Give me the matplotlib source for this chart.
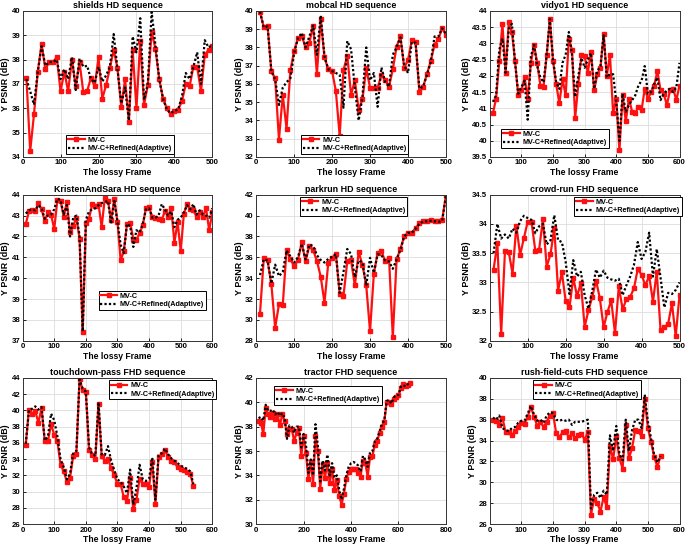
import numpy as np
import matplotlib
matplotlib.use("Agg")
import matplotlib.pyplot as plt
from matplotlib.ticker import FormatStrFormatter

plt.rcParams['font.family'] = ['Liberation Sans', 'DejaVu Sans']
plt.rcParams['font.weight'] = 'bold'

# ---- data: Y PSNR (dB) per lossy frame ----
shields_frames = list(range(10, 510, 10))
shields_mvc = [37.25, 34.25, 35.75, 37.5, 38.65, 37.6, 37.9, 37.9, 38.1, 36.7,
               37.5, 36.7, 38.0, 36.9, 37.9, 36.65, 36.7, 37.25, 36.9, 38.1,
               36.4, 36.95, 37.65, 38.4, 37.65, 36.05, 37.2, 35.45, 38.4, 36.0,
               38.75, 36.15, 36.95, 39.15, 38.45, 37.2, 36.4, 36.0, 35.75, 35.9,
               35.95, 36.3, 37.0, 36.9, 37.7, 37.7, 36.7, 38.2, 38.4, 38.55]
shields_ref = [37.2, 36.7, 36.15, 37.5, 38.55, 37.75, 37.9, 37.9, 38.0, 37.2,
               37.6, 37.2, 38.1, 36.75, 38.05, 37.7, 37.75, 37.2, 37.05, 37.7,
               37.1, 37.35, 37.7, 39.05, 37.6, 36.2, 36.85, 35.5, 38.95, 38.3,
               39.7, 36.35, 37.0, 39.95, 38.6, 37.2, 36.4, 35.95, 35.8, 35.9,
               35.95, 36.5, 37.45, 37.2, 37.7, 38.3, 37.0, 38.8, 38.5, 38.6]

mobcal_frames = list(range(10, 510, 10))
mobcal_mvc = [39.95, 39.1, 39.2, 36.7, 36.3, 32.95, 35.4, 33.55, 36.75, 37.8,
              38.5, 38.65, 38.0, 38.25, 39.2, 36.55, 39.55, 37.45, 36.8, 36.7,
              35.6, 33.15, 36.75, 37.55, 35.4, 36.2, 34.6, 35.15, 36.85, 35.8,
              35.8, 35.8, 36.5, 36.2, 35.85, 36.8, 38.05, 38.6, 36.9, 37.3,
              38.4, 38.3, 35.55, 35.85, 36.55, 37.25, 38.15, 38.45, 39.05, 38.7]
mobcal_ref = [39.95, 39.1, 39.15, 36.7, 36.25, 34.85, 35.8, 36.1, 36.3, 37.7,
              38.5, 38.8, 38.0, 38.6, 39.2, 37.6, 39.75, 37.5, 36.8, 36.7,
              36.6, 36.5, 34.7, 38.35, 37.9, 35.8, 34.0, 35.3, 38.0, 36.2,
              36.6, 34.75, 36.9, 36.1, 35.85, 37.6, 38.0, 38.55, 37.0, 36.6,
              38.3, 38.25, 35.75, 35.85, 36.5, 37.2, 38.6, 38.6, 39.05, 38.75]

vidyo_frames = list(range(10, 610, 10))
vidyo_mvc = [40.85, 41.3, 42.45, 43.6, 42.1, 43.65, 43.35, 42.45, 41.4, 41.55,
             41.95, 41.3, 42.4, 42.95, 42.4, 41.7, 41.65, 42.65, 43.75, 42.45,
             41.75, 41.15, 41.9, 41.4, 43.15, 42.8, 40.7, 41.75, 42.65, 42.6,
             42.1, 42.75, 41.55, 42.05, 42.25, 43.3, 42.0, 42.65, 40.85, 41.3,
             39.7, 41.4, 40.6, 41.3, 40.9, 40.85, 41.05, 40.95, 41.6, 41.3,
             41.5, 41.7, 42.15, 41.55, 41.45, 41.1, 41.55, 41.6, 41.25, 41.7]
vidyo_ref = [41.2, 41.4, 42.8, 43.15, 42.1, 43.45, 43.6, 42.4, 41.45, 41.65,
             41.85, 40.65, 42.6, 42.95, 42.3, 41.95, 41.8, 42.65, 43.75, 42.5,
             41.8, 41.6, 42.4, 42.65, 43.35, 42.65, 41.35, 42.0, 42.55, 42.25,
             42.5, 42.7, 41.6, 42.15, 42.3, 43.25, 41.95, 42.05, 42.05, 41.2,
             40.0, 41.45, 40.9, 41.1, 41.25, 41.4, 41.7, 41.85, 42.3, 41.45,
             41.5, 41.75, 41.95, 41.25, 41.45, 41.55, 41.6, 41.5, 41.65, 42.4]

kristen_frames = list(range(10, 610, 10))
kristen_mvc = [42.6, 43.2, 43.25, 43.2, 43.6, 43.3, 42.75, 43.15, 43.05, 42.35,
               43.75, 43.7, 42.95, 43.65, 42.2, 42.5, 42.9, 41.9, 37.4, 42.65,
               42.85, 43.55, 43.45, 43.55, 42.45, 43.85, 43.7, 42.8, 43.8, 42.7,
               40.85, 41.3, 42.6, 42.65, 41.9, 41.85, 42.15, 42.55, 43.35, 43.4,
               42.95, 42.9, 42.85, 42.8, 43.2, 42.95, 43.35, 41.7, 42.7, 41.3,
               43.1, 43.55, 43.3, 43.25, 42.95, 43.15, 42.95, 43.35, 42.3, 43.15]
kristen_ref = [43.1, 43.25, 43.3, 43.25, 43.5, 43.35, 42.85, 43.0, 43.05, 43.3,
               43.8, 43.75, 43.05, 43.5, 42.0, 42.9, 43.0, 42.05, 37.45, 42.8,
               43.2, 43.3, 43.35, 43.5, 43.6, 43.65, 43.7, 42.6, 43.7, 42.7,
               41.6, 41.2, 42.6, 42.5, 41.5, 42.3, 42.2, 42.6, 43.3, 43.35,
               42.9, 42.9, 43.0, 43.55, 43.3, 43.0, 43.2, 42.45, 42.8, 42.9,
               43.15, 43.5, 43.3, 43.55, 43.05, 43.25, 43.05, 43.0, 42.9, 43.35]

parkrun_frames = list(range(10, 510, 10))
parkrun_mvc = [30.6, 35.9, 35.7, 33.4, 29.25, 31.5, 31.4, 36.75, 35.8, 35.15,
               35.7, 37.45, 35.6, 37.1, 36.7, 35.65, 34.15, 31.65, 35.5, 35.95,
               36.35, 32.5, 32.3, 35.6, 35.7, 33.3, 36.5, 35.3, 33.3, 28.9,
               34.4, 36.45, 36.6, 35.6, 35.95, 28.35, 35.8, 36.8, 38.0, 38.35,
               38.35, 38.8, 39.25, 39.5, 39.5, 39.55, 39.45, 39.45, 39.55, 41.95]
parkrun_ref = [34.3, 35.8, 35.7, 33.5, 35.3, 34.2, 34.6, 36.65, 36.1, 35.5,
               36.0, 37.3, 35.8, 37.2, 37.1, 36.2, 35.75, 35.5, 35.85, 36.05,
               36.3, 32.6, 34.6, 36.8, 36.3, 34.1, 35.7, 35.5, 33.3, 35.95,
               34.5, 36.3, 36.2, 35.7, 35.6, 34.9, 35.8, 36.7, 38.0, 38.35,
               38.35, 38.75, 39.2, 39.45, 39.45, 39.5, 39.45, 39.4, 39.5, 41.9]

crowd_frames = list(range(10, 510, 10))
crowd_mvc = [33.22, 33.67, 32.12, 33.53, 33.52, 33.15, 33.97, 33.47, 33.76, 34.04,
             34.04, 33.54, 33.56, 34.08, 33.27, 33.48, 33.93, 32.86, 33.17, 32.68,
             32.57, 33.08, 32.76, 32.99, 32.24, 32.52, 32.75, 33.03, 32.73, 32.23,
             32.49, 32.69, 32.13, 32.93, 32.54, 32.71, 32.75, 32.90, 33.23, 33.13,
             32.95, 33.11, 32.67, 33.18, 32.18, 32.23, 32.29, 32.64, 32.08, 32.78]
crowd_ref = [33.5, 34.0, 33.75, 33.82, 33.75, 33.92, 33.85, 34.05, 34.14, 34.1,
             34.07, 33.84, 33.96, 34.0, 33.65, 33.72, 34.15, 33.72, 33.69, 33.35,
             32.8, 33.38, 33.1, 33.18, 32.78, 32.55, 32.85, 33.22, 33.08, 33.2,
             33.08, 33.05, 33.03, 33.06, 32.78, 32.95, 33.1, 33.3, 33.69, 33.4,
             33.52, 33.85, 33.1, 33.57, 33.08, 32.57, 32.82, 32.8, 32.87, 33.0]

touch_frames = list(range(10, 550, 10))
touch_mvc = [35.8, 40.1, 39.6, 39.9, 38.5, 40.3, 36.2, 36.2, 38.3, 37.0,
             36.2, 33.3, 32.5, 31.2, 31.7, 34.4, 34.6, 43.9, 42.5, 42.3,
             35.1, 34.5, 34.0, 40.8, 34.4, 33.8, 34.0, 32.9, 32.0, 30.9,
             30.9, 29.3, 28.8, 31.7, 27.8, 29.0, 31.6, 30.9, 30.9, 30.6,
             33.7, 28.5, 34.3, 34.6, 35.1, 34.3, 33.8, 33.6, 33.0, 32.8,
             32.6, 32.4, 32.2, 30.7]
touch_ref = [35.9, 40.0, 40.2, 40.5, 40.1, 40.4, 36.3, 36.8, 39.6, 38.8,
             36.8, 34.0, 33.0, 31.5, 32.2, 34.7, 35.0, 43.8, 42.7, 42.3,
             35.5, 34.6, 34.4, 41.0, 34.6, 34.5, 35.6, 33.8, 32.6, 31.5,
             31.2, 30.6, 29.8, 32.7, 28.4, 30.4, 33.3, 31.5, 31.3, 31.6,
             34.2, 29.0, 34.5, 34.7, 35.3, 34.6, 34.1, 33.8, 33.5, 33.2,
             33.0, 32.8, 32.5, 30.9]

tractor_frames = list(range(10, 660, 10))
tractor_mvc = [38.5, 38.3, 37.4, 39.5, 39.0, 38.8, 39.1, 38.6, 39.0, 38.1,
               39.0, 38.5, 37.4, 37.8, 37.8, 36.8, 37.5, 37.9, 35.6, 37.2,
               35.8, 33.7, 35.1, 33.3, 37.2, 36.0, 32.9, 34.9, 33.8, 35.0,
               33.4, 34.5, 32.8, 33.6, 32.3, 31.6, 32.5, 33.7, 34.3, 34.5,
               34.5, 34.5, 34.2, 33.9, 35.2, 35.0, 33.9, 35.5, 35.6, 36.5,
               36.8, 37.5, 38.0, 38.4, 40.0, 40.0, 39.9, 40.3, 40.4, 40.6,
               41.2, 41.5, 41.3, 41.4, 41.6]
tractor_ref = [38.7, 38.8, 38.5, 39.8, 39.3, 39.3, 39.4, 39.0, 39.2, 38.9,
               39.1, 38.7, 37.0, 38.1, 38.0, 37.5, 38.0, 38.0, 36.3, 37.4,
               36.5, 34.2, 35.3, 34.0, 38.2, 36.4, 33.5, 35.2, 34.4, 35.7,
               34.0, 35.0, 33.8, 34.0, 32.8, 32.0, 32.9, 34.0, 34.7, 35.0,
               35.1, 35.0, 34.8, 34.3, 35.6, 35.3, 34.7, 35.9, 36.0, 36.8,
               37.0, 37.6, 38.2, 38.5, 40.1, 40.2, 39.9, 40.4, 40.6, 40.6,
               41.3, 41.4, 41.3, 41.5, 41.6]

rush_frames = list(range(10, 550, 10))
rush_mvc = [36.0, 35.9, 35.5, 36.2, 34.8, 34.8, 34.5, 34.9, 35.3, 35.7,
            35.6, 36.3, 37.2, 36.3, 35.4, 35.8, 35.3, 35.8, 36.4, 36.6,
            34.7, 34.3, 34.8, 34.9, 34.3, 34.7, 34.2, 34.5, 34.6, 34.1,
            34.8, 26.9, 28.4, 28.0, 27.2, 28.6, 27.6, 33.5, 32.2, 34.4,
            32.3, 31.3, 35.5, 32.3, 33.3, 35.0, 34.9, 34.4, 38.0, 35.2,
            33.9, 32.4, 31.5, 32.5]
rush_ref = [36.2, 36.0, 36.4, 35.2, 35.0, 34.9, 35.2, 35.3, 35.7, 35.9,
            35.9, 36.6, 37.3, 36.5, 35.9, 36.0, 35.7, 36.4, 36.7, 36.6,
            36.0, 35.9, 36.0, 35.9, 36.0, 35.5, 35.8, 35.8, 35.8, 35.9,
            36.0, 27.5, 28.8, 29.0, 28.5, 29.2, 28.8, 34.5, 33.0, 35.4,
            32.7, 32.1, 36.0, 33.0, 35.0, 36.0, 36.0, 35.2, 38.4, 35.8,
            34.2, 32.6, 31.9, 32.5]

titles = ["shields HD sequence", "mobcal HD sequence", "vidyo1 HD sequence",
          "KristenAndSara HD sequence", "parkrun HD sequence", "crowd-run FHD sequence",
          "touchdown-pass FHD sequence", "tractor FHD sequence", "rush-field-cuts FHD sequence"]

panels = [
    (shields_frames, shields_mvc, shields_ref, (0, 500, 100), (34, 40, 1), 'lower left', (0.23, 0.02)),
    (mobcal_frames, mobcal_mvc, mobcal_ref, (0, 500, 100), (32, 40, 1), 'lower left', (0.235, 0.02)),
    (vidyo_frames, vidyo_mvc, vidyo_ref, (0, 600, 100), (39.5, 44, 0.5), 'lower left', (0.06, 0.06)),
    (kristen_frames, kristen_mvc, kristen_ref, (0, 600, 100), (37, 44, 1), 'lower left', (0.4, 0.21)),
    (parkrun_frames, parkrun_mvc, parkrun_ref, (0, 500, 100), (28, 42, 2), 'upper left', (0.23, 0.985)),
    (crowd_frames, crowd_mvc, crowd_ref, (0, 500, 100), (32, 34.5, 0.5), 'upper left', (0.445, 0.985)),
    (touch_frames, touch_mvc, touch_ref, (0, 600, 100), (26, 44, 2), 'upper left', (0.455, 0.985)),
    (tractor_frames, tractor_mvc, tractor_ref, (0, 800, 200), (30, 42, 2), 'upper left', (0.095, 0.945)),
    (rush_frames, rush_mvc, rush_ref, (0, 600, 100), (26, 40, 2), 'upper left', (0.23, 0.985)),
]

fig = plt.figure(figsize=(6.85, 5.47), dpi=100)
lefts = [0.033, 0.374, 0.715]
bottoms = [0.713, 0.377, 0.042]
w, h = 0.277, 0.267

for i, (fr, mvc, ref, xr, yr, loc, anchor) in enumerate(panels):
    ax = fig.add_axes([lefts[i % 3], bottoms[i // 3], w, h])
    ax.plot(fr, mvc, color='#ff1010', lw=1.6, marker='s', ms=3.2, label='MV-C', zorder=2)
    ax.plot(fr, ref, color='black', lw=1.6, ls=(0, (1, 1)), label='MV-C+Refined(Adaptive)', zorder=3)
    ax.set_xlim(xr[0], xr[1])
    ax.set_ylim(yr[0], yr[1])
    ax.set_xticks(np.arange(xr[0], xr[1] + 1, xr[2]))
    ax.set_yticks(np.arange(yr[0], yr[1] + 0.001, yr[2]))
    ax.yaxis.set_major_formatter(FormatStrFormatter('%g'))
    ax.grid(True, color='#dcdcdc', lw=0.6)
    ax.set_axisbelow(True)
    ax.tick_params(direction='in', length=2.5, width=0.6, labelsize=5.6, pad=1.8)
    for s in ax.spines.values():
        s.set_linewidth(0.7)
        s.set_color('#333333')
    ax.set_title(titles[i], fontsize=6.4, fontweight='bold', pad=2)
    ax.set_xlabel('The lossy Frame', fontsize=6.2, fontweight='bold', labelpad=1)
    ax.set_ylabel('Y PSNR (dB)', fontsize=6.4, fontweight='bold', labelpad=1)
    leg = ax.legend(loc=loc, bbox_to_anchor=anchor, fontsize=5.2, frameon=True,
                    fancybox=False, framealpha=1, edgecolor='black',
                    handlelength=2.3, borderpad=0.25, labelspacing=0.2,
                    handletextpad=0.4, borderaxespad=0)
    leg.get_frame().set_linewidth(0.7)

fig.savefig('out.png', dpi=100)
